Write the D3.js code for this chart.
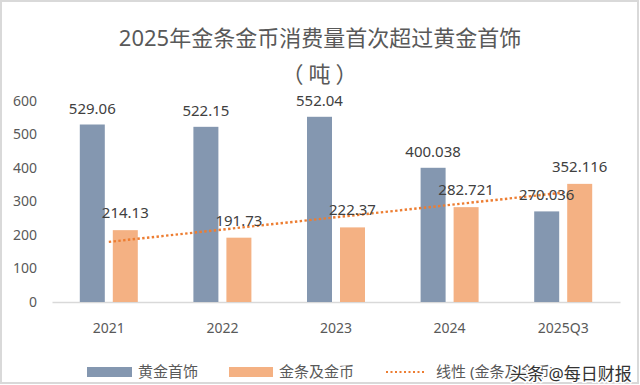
<!DOCTYPE html>
<html>
<head>
<meta charset="utf-8">
<script src="https://cdn.jsdelivr.net/npm/d3@7"></script>
<style>
  html, body { margin: 0; padding: 0; background: #fff; }
  svg { display: block; }
</style>
</head>
<body>
<div id="chart"></div>
<script>
//chart data
const categories = ["2021", "2022", "2023", "2024", "2025Q3"];
const jewelry = [529.06, 522.15, 552.04, 400.038, 270.036];
const barsCoins = [214.13, 191.73, 222.37, 282.721, 352.116];
const jewelryLabels = ["529.06", "522.15", "552.04", "400.038", "270.036"];
const barsCoinsLabels = ["214.13", "191.73", "222.37", "282.721", "352.116"];
const yTicks = [0, 100, 200, 300, 400, 500, 600];

const width = 640, height = 385;
const font = "'Noto Sans', 'Noto Sans CJK SC', sans-serif";
const cjkFont = "'Noto Sans CJK SC', sans-serif";
const textColor = "#595959";
const blue = "#8497B0";
const orange = "#F4B183";
const trendColor = "#ED7D31";

const svg = d3.select("#chart")
  .append("svg")
  .attr("width", width)
  .attr("height", height)
  .style("font-family", font);

//outer frame
svg.append("rect")
  .attr("x", 1).attr("y", 1)
  .attr("width", width - 3).attr("height", height - 3)
  .attr("fill", "#fff")
  .attr("stroke", "#d9d9d9")
  .attr("stroke-width", 2);

//title
svg.append("text")
  .attr("x", 320).attr("y", 46)
  .attr("text-anchor", "middle")
  .attr("font-size", 22)
  .attr("fill", textColor)
  .text("2025年金条金币消费量首次超过黄金首饰");
svg.append("text")
  .attr("x", 322).attr("y", 82)
  .attr("text-anchor", "middle")
  .attr("font-size", 22)
  .attr("font-family", cjkFont)
  .attr("letter-spacing", 5)
  .attr("fill", textColor)
  .text("（吨）");

//scales
const x = d3.scaleBand().domain(categories).range([52, 620]);
const y = d3.scaleLinear().domain([0, 600]).range([302, 100.7]);
const barW = 25, gap = 8;

//y axis labels (no axis line)
const yAxis = svg.append("g")
  .attr("transform", "translate(37,0)")
  .call(d3.axisLeft(y).tickValues(yTicks).tickSize(0).tickPadding(0));
yAxis.select(".domain").remove();
yAxis.selectAll("text")
  .attr("font-size", 14)
  .attr("font-family", font)
  .attr("fill", textColor);

//x axis
const xAxis = svg.append("g")
  .attr("transform", `translate(0,${y(0)})`)
  .call(d3.axisBottom(x).tickSize(0).tickPadding(21));
xAxis.select(".domain").attr("stroke", "#d9d9d9").attr("stroke-width", 1.5);
xAxis.selectAll("text")
  .attr("font-size", 14)
  .attr("font-family", font)
  .attr("fill", textColor);

const center = (c) => x(c) + x.bandwidth() / 2;

//bars
svg.append("g").selectAll("rect")
  .data(categories)
  .join("rect")
  .attr("x", (c) => center(c) - gap / 2 - barW)
  .attr("y", (c, i) => y(jewelry[i]))
  .attr("width", barW)
  .attr("height", (c, i) => y(0) - y(jewelry[i]))
  .attr("fill", blue);

svg.append("g").selectAll("rect")
  .data(categories)
  .join("rect")
  .attr("x", (c) => center(c) + gap / 2)
  .attr("y", (c, i) => y(barsCoins[i]))
  .attr("width", barW)
  .attr("height", (c, i) => y(0) - y(barsCoins[i]))
  .attr("fill", orange);

//linear trendline for bars & coins (least squares)
const n = barsCoins.length;
const xs = d3.range(1, n + 1);
const mx = d3.mean(xs), my = d3.mean(barsCoins);
const slope = d3.sum(xs, (v, i) => (v - mx) * (barsCoins[i] - my)) /
  d3.sum(xs, (v) => (v - mx) * (v - mx));
const intercept = my - slope * mx;
const trend = categories.map((c, i) => [center(c), y(intercept + slope * xs[i])]);

svg.append("path")
  .attr("d", d3.line()([trend[0], trend[n - 1]]))
  .attr("fill", "none")
  .attr("stroke", trendColor)
  .attr("stroke-width", 2.4)
  .attr("stroke-dasharray", "2.4 2.4");

//data labels
const labelG = svg.append("g")
  .attr("font-size", 15)
  .attr("fill", "#404040")
  .attr("text-anchor", "middle");

categories.forEach((c, i) => {
  labelG.append("text")
    .attr("x", center(c) - gap / 2 - barW / 2)
    .attr("y", y(jewelry[i]) - 11)
    .text(jewelryLabels[i]);
  labelG.append("text")
    .attr("x", center(c) + gap / 2 + barW / 2)
    .attr("y", y(barsCoins[i]) - 12)
    .text(barsCoinsLabels[i]);
});

//legend
const legend = svg.append("g").attr("font-size", 15).attr("fill", textColor);
legend.append("rect").attr("x", 87).attr("y", 367).attr("width", 45).attr("height", 10).attr("fill", blue);
legend.append("text").attr("x", 138).attr("y", 377).text("黄金首饰");
legend.append("rect").attr("x", 229).attr("y", 367).attr("width", 44).attr("height", 10).attr("fill", orange);
legend.append("text").attr("x", 279).attr("y", 377).text("金条及金币");
legend.append("line")
  .attr("x1", 386).attr("x2", 425).attr("y1", 372).attr("y2", 372)
  .attr("stroke", trendColor).attr("stroke-width", 2)
  .attr("stroke-dasharray", "2 2.5");
legend.append("text").attr("x", 436).attr("y", 377).text("线性 (金条及金币)");

//watermark
svg.append("text")
  .attr("x", 510).attr("y", 380)
  .attr("font-size", 17)
  .attr("fill", "#333")
  .attr("stroke", "#fff")
  .attr("stroke-width", 3)
  .attr("paint-order", "stroke")
  .text("头条 @每日财报");
</script>
</body>
</html>
